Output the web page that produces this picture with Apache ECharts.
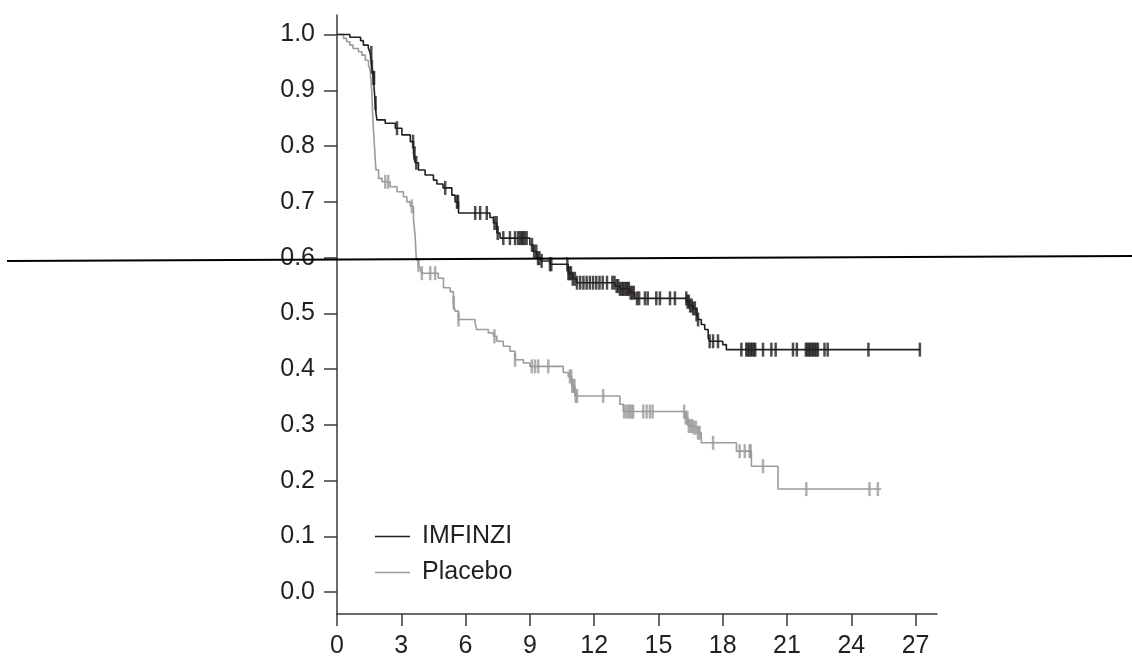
<!DOCTYPE html>
<html>
<head>
<meta charset="utf-8">
<script src="https://cdn.jsdelivr.net/npm/echarts@6/dist/echarts.min.js"></script>
<style>
  html, body { margin: 0; padding: 0; background: #fff; }
  #chart { width: 1132px; height: 659px; }
</style>
</head>
<body>
<div id="chart"></div>
<script>
// x: months, y: survival probability (step after each point)
const imfinziCurve = [
  [0, 1.0], [0.6, 0.995], [1.1, 0.989], [1.23, 0.981], [1.46, 0.976], [1.55, 0.967],
  [1.62, 0.942], [1.66, 0.936], [1.7, 0.922], [1.74, 0.9], [1.78, 0.877], [1.82, 0.859],
  [1.86, 0.847], [2.25, 0.841], [2.72, 0.832], [3.03, 0.82], [3.42, 0.808], [3.57, 0.787],
  [3.65, 0.77], [3.8, 0.757], [4.11, 0.748], [4.5, 0.739], [4.66, 0.732], [4.95, 0.725],
  [5.36, 0.712], [5.51, 0.7], [5.67, 0.68], [7.14, 0.672], [7.3, 0.662], [7.46, 0.644],
  [7.61, 0.635], [9.0, 0.623], [9.15, 0.611], [9.32, 0.599], [9.55, 0.594], [9.94, 0.588],
  [10.79, 0.572], [11.0, 0.562], [11.18, 0.555], [12.97, 0.549], [13.2, 0.544], [13.67, 0.537],
  [13.9, 0.527], [16.31, 0.521], [16.46, 0.514], [16.62, 0.509], [16.78, 0.498], [16.85, 0.489],
  [17.0, 0.48], [17.16, 0.471], [17.32, 0.456], [17.39, 0.45], [18.0, 0.444], [18.17, 0.435],
  [27.2, 0.435]
];
const placeboCurve = [
  [0, 1.0], [0.3, 0.993], [0.45, 0.987], [0.6, 0.981], [0.75, 0.975], [1.0, 0.969],
  [1.16, 0.963], [1.32, 0.954], [1.47, 0.945], [1.55, 0.936], [1.62, 0.9], [1.66, 0.86],
  [1.7, 0.83], [1.74, 0.806], [1.78, 0.78], [1.82, 0.757], [1.94, 0.742], [2.1, 0.736],
  [2.48, 0.727], [2.8, 0.718], [3.1, 0.709], [3.26, 0.7], [3.42, 0.692], [3.57, 0.668],
  [3.65, 0.638], [3.7, 0.596], [3.8, 0.587], [3.88, 0.581], [3.96, 0.572], [4.73, 0.563],
  [4.97, 0.546], [5.28, 0.539], [5.43, 0.519], [5.51, 0.504], [5.67, 0.489], [6.44, 0.483],
  [6.52, 0.471], [7.06, 0.465], [7.3, 0.459], [7.46, 0.45], [7.76, 0.441], [8.07, 0.432],
  [8.31, 0.417], [8.7, 0.411], [9.0, 0.405], [10.56, 0.394], [10.79, 0.387], [10.95, 0.37],
  [11.1, 0.352], [13.2, 0.337], [13.36, 0.324], [16.23, 0.313], [16.38, 0.298], [16.62, 0.295],
  [16.85, 0.286], [17.0, 0.268], [18.64, 0.253], [19.34, 0.226], [20.58, 0.185], [25.4, 0.185]
];

// censoring times (months)
const imfinziCensored = [
  1.6, 1.63, 1.7, 1.73, 1.8, 2.8, 3.55, 3.62, 3.7, 5.05, 5.6, 5.65, 6.45, 6.68, 6.99, 7.35, 7.45,
  7.5, 7.76, 8.07, 8.31, 8.45, 8.54, 8.62, 8.68, 8.76, 8.85, 9.1, 9.2, 9.3, 9.38, 9.45, 9.55,
  9.94, 10.0, 10.75, 10.8, 10.85, 10.92, 11.0, 11.1, 11.2, 11.35, 11.5, 11.65, 11.8, 11.95, 12.1,
  12.25, 12.4, 12.6, 12.85, 12.95, 13.05, 13.12, 13.2, 13.28, 13.35, 13.42, 13.5, 13.56, 13.62,
  13.7, 13.78, 13.85, 14.0, 14.1, 14.37, 14.5, 14.9, 15.07, 15.54, 15.77, 16.3, 16.36, 16.42,
  16.48, 16.55, 16.62, 16.7, 16.78, 16.85, 17.39, 17.55, 17.78, 18.87, 19.1, 19.17, 19.24, 19.31,
  19.38, 19.45, 19.52, 19.88, 20.27, 20.47, 21.28, 21.46, 21.88, 21.95, 22.02, 22.09, 22.16, 22.23,
  22.3, 22.37, 22.44, 22.75, 22.9, 24.8, 27.2
];
const placeboCensored = [
  2.25, 2.39, 3.49, 3.8, 3.96, 4.35, 4.58, 5.45, 5.67, 7.35, 8.31, 9.09, 9.24, 9.39, 9.86,
  10.87, 10.93, 10.98, 11.03, 11.08, 11.14, 11.2, 12.42, 13.4, 13.5, 13.6, 13.67, 13.75, 13.82,
  14.29, 14.45, 14.6, 14.73, 16.2, 16.27, 16.35, 16.42, 16.5, 16.58, 16.66, 16.75, 16.85, 16.92,
  17.55, 18.79, 19.03, 19.26, 19.3, 19.88, 21.9, 24.85, 25.24
];

const xTicks = [0, 3, 6, 9, 12, 15, 18, 21, 24, 27];
const yTicks = [0, 0.1, 0.2, 0.3, 0.4, 0.5, 0.6, 0.7, 0.8, 0.9, 1.0];

// place a censor mark on the curve at time t
function onCurve(curve, t) {
  let y = curve[0][1];
  for (const p of curve) {
    if (p[0] <= t) y = p[1];
  }
  return [t, y];
}

const textColor = '#231f20';
const axisColor = '#3a3a3a';
const darkLine = '#231f20';
const greyLine = '#9b9b9b';
const font = 'Liberation Sans, Arial, sans-serif';

const chart = echarts.init(document.getElementById('chart'), null, { renderer: 'canvas' });

chart.setOption({
  animation: false,
  grid: { left: 337, right: 195, top: 15, bottom: 44 },
  legend: {
    orient: 'vertical',
    left: 370,
    top: 519,
    itemWidth: 35,
    itemHeight: 1.6,
    itemGap: 11,
    data: [
      { name: 'IMFINZI', icon: 'rect' },
      { name: 'Placebo', icon: 'rect' }
    ],
    textStyle: { fontSize: 25, color: textColor, fontFamily: font, padding: [0, 0, 0, 7] }
  },
  xAxis: {
    type: 'value',
    min: 0,
    max: 28,
    axisLine: { onZero: false, lineStyle: { color: axisColor, width: 1.5 } },
    axisTick: { length: 12, customValues: xTicks, lineStyle: { color: axisColor, width: 1.5 } },
    axisLabel: { customValues: xTicks, margin: 20, fontSize: 25, color: textColor, fontFamily: font },
    splitLine: { show: false }
  },
  yAxis: {
    type: 'value',
    min: -0.039,
    max: 1.035,
    axisLine: { show: true, onZero: false, lineStyle: { color: axisColor, width: 1.5 } },
    axisTick: { show: true, length: 13, customValues: yTicks, lineStyle: { color: axisColor, width: 1.5 } },
    axisLabel: {
      customValues: yTicks,
      margin: 22,
      fontSize: 25,
      color: textColor,
      fontFamily: font,
      formatter: v => v.toFixed(1)
    },
    splitLine: { show: false }
  },
  series: [
    {
      name: 'IMFINZI',
      type: 'line',
      step: 'end',
      symbol: 'none',
      data: imfinziCurve,
      lineStyle: { color: darkLine, width: 1.6 },
      itemStyle: { color: darkLine },
      z: 3
    },
    {
      name: 'Placebo',
      type: 'line',
      step: 'end',
      symbol: 'none',
      data: placeboCurve,
      lineStyle: { color: greyLine, width: 1.6 },
      itemStyle: { color: greyLine },
      z: 2
    },
    {
      name: 'IMFINZI censored',
      type: 'scatter',
      symbol: 'rect',
      symbolSize: [2.5, 14],
      data: imfinziCensored.map(t => onCurve(imfinziCurve, t)),
      itemStyle: { color: darkLine },
      z: 3
    },
    {
      name: 'Placebo censored',
      type: 'scatter',
      symbol: 'rect',
      symbolSize: [2.5, 14],
      data: placeboCensored.map(t => onCurve(placeboCurve, t)),
      itemStyle: { color: greyLine },
      z: 2
    }
  ],
  graphic: [{
    type: 'line',
    z: 100,
    shape: { x1: 7, y1: 261, x2: 1132, y2: 256 },
    style: { stroke: '#000', lineWidth: 2 }
  }]
});
</script>
</body>
</html>
